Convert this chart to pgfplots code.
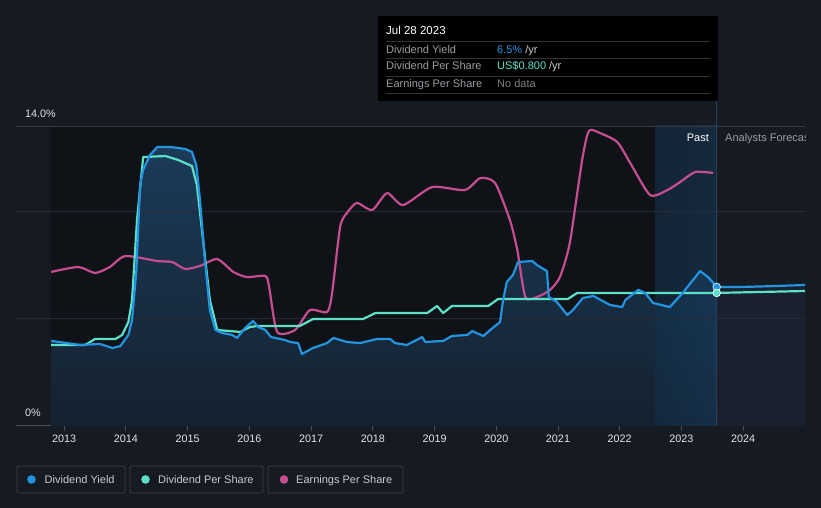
\documentclass[border=0pt]{standalone}
\usepackage{fontspec}
\setmainfont{Liberation Sans}
\usepackage{pgfplots}
\usepackage{pgfplotstable}
\pgfplotsset{compat=1.18}

\definecolor{bg}{HTML}{151A23}
\definecolor{pastdark}{HTML}{0F1318}
\definecolor{fillTop}{HTML}{1B3B58}
\definecolor{fillBot}{HTML}{15212F}
\definecolor{fcfill}{HTML}{18212D}
\definecolor{bandL}{HTML}{1F5F95}
\definecolor{bandR}{HTML}{2A7AC0}
\definecolor{gridc}{HTML}{262C35}
\definecolor{topgrid}{HTML}{353A42}
\definecolor{axisgray}{HTML}{474D56}
\definecolor{ticklab}{HTML}{E2E4E8}
\definecolor{dyblue}{HTML}{2394E0}
\definecolor{dpsteal}{HTML}{5DE0C8}
\definecolor{epspink}{HTML}{C64D90}
\definecolor{pastline}{HTML}{24405A}
\definecolor{ttgray}{HTML}{9A9DA3}
\definecolor{ttsep}{HTML}{343434}
\definecolor{legbox}{HTML}{3A3F48}
\definecolor{legtext}{HTML}{C8CACE}

% dividend yield (%)
\pgfplotstableread{
t v
2012.79 3.97
2013.26 3.78
2013.58 3.83
2013.78 3.64
2013.91 3.73
2014.04 4.25
2014.10 4.95
2014.17 7.28
2014.23 11.25
2014.28 11.95
2014.39 12.65
2014.51 13.02
2014.72 13.02
2014.96 12.93
2015.07 12.79
2015.14 12.18
2015.20 10.55
2015.28 7.75
2015.36 5.41
2015.45 4.48
2015.56 4.34
2015.72 4.25
2015.80 4.11
2015.93 4.57
2016.06 4.90
2016.14 4.62
2016.26 4.48
2016.35 4.15
2016.50 4.06
2016.58 4.01
2016.66 3.92
2016.79 3.87
2016.85 3.36
2017.03 3.64
2017.26 3.87
2017.36 4.11
2017.58 3.92
2017.79 3.87
2018.07 4.06
2018.28 4.06
2018.36 3.87
2018.55 3.78
2018.80 4.15
2018.85 3.92
2019.14 3.97
2019.28 4.20
2019.53 4.25
2019.61 4.43
2019.79 4.20
2019.90 4.48
2020.06 4.85
2020.11 5.88
2020.17 6.72
2020.27 7.05
2020.35 7.65
2020.58 7.70
2020.66 7.51
2020.82 7.23
2020.85 6.02
2020.98 5.79
2021.15 5.18
2021.24 5.41
2021.40 5.97
2021.57 6.07
2021.84 5.65
2022.04 5.55
2022.09 5.88
2022.30 6.35
2022.41 6.21
2022.54 5.74
2022.81 5.55
2023.02 6.21
2023.30 7.23
2023.43 6.95
2023.57 6.49
}\yield

\pgfplotstableread{
t v
2023.57 6.49
2024.00 6.49
2024.50 6.53
2025.00 6.58
}\yieldfc

% dividend per share (scaled to chart)
\pgfplotstableread{
t v
2012.79 3.78
2013.34 3.78
2013.50 4.06
2013.83 4.06
2013.94 4.25
2014.04 4.85
2014.10 5.88
2014.18 9.61
2014.28 12.55
2014.64 12.60
2014.85 12.41
2015.07 12.13
2015.15 11.25
2015.25 8.68
2015.36 5.88
2015.48 4.48
2015.85 4.39
2016.01 4.62
2016.14 4.67
2016.82 4.67
2017.03 4.99
2017.84 4.99
2018.04 5.27
2018.88 5.27
2019.04 5.60
2019.14 5.27
2019.28 5.60
2019.87 5.60
2020.03 5.93
2021.16 5.93
2021.31 6.21
2023.57 6.21
2025.00 6.30
}\dps

% earnings per share (scaled to chart)
\pgfplotstableread{
t v
2012.79 7.19
2013.23 7.42
2013.50 7.14
2013.74 7.42
2013.99 7.93
2014.51 7.70
2014.75 7.65
2014.96 7.33
2015.20 7.47
2015.48 7.79
2015.74 7.19
2015.96 6.95
2016.26 7.00
2016.32 6.49
2016.45 4.39
2016.74 4.48
2016.98 5.41
2017.26 5.32
2017.34 6.21
2017.47 9.29
2017.58 9.94
2017.74 10.41
2017.99 10.08
2018.23 10.87
2018.49 10.31
2018.96 11.15
2019.49 11.01
2019.74 11.57
2019.98 11.34
2020.22 9.61
2020.34 8.21
2020.47 6.02
2020.66 6.02
2020.87 6.35
2021.03 6.95
2021.19 8.54
2021.39 12.41
2021.50 13.77
2021.68 13.67
2021.96 13.25
2022.17 12.27
2022.49 10.78
2022.77 11.01
2022.98 11.39
2023.22 11.85
2023.51 11.81
}\eps

\begin{document}
\begin{tikzpicture}
\fill[bg] (0,0) rectangle (821bp,508bp);

\begin{axis}[
    at={(16bp,82bp)}, anchor=south west,
    scale only axis, width=789bp, height=300bp,
    xmin=2012.22, xmax=2025, ymin=0, ymax=14,
    clip=false,
    axis y line=none,
    axis x line*=bottom,
    x axis line style={draw=axisgray, line width=1bp},
    ytick=\empty,
    xtick={2013,2014,...,2024},
    tick align=outside,
    major tick length=5bp,
    x tick style={draw=axisgray, line width=0.8bp},
    x tick label style={font=\fontsize{10.8bp}{12bp}\selectfont, text=ticklab,
        /pgf/number format/assume math mode=true, /pgf/number format/1000 sep={}},
    scaled x ticks=false,
]
% past region background
\fill[pastdark] (axis cs:2012.79,0) rectangle (axis cs:2022.57,14);

% area under dividend yield
\addplot[draw=none, top color=fillTop, bottom color=fillBot] table[x=t,y=v] {\yield} \closedcycle;
\addplot[draw=none, fill=fcfill] table[x=t,y=v] {\yieldfc} \closedcycle;

% last-year band
\fill[left color=bandL, right color=bandR, fill opacity=0.22] (axis cs:2022.57,0) rectangle (axis cs:2023.57,14);

% grid
\draw[gridc, line width=0.8bp] (axis cs:2012.22,5) -- (axis cs:2025,5);
\draw[gridc, line width=0.8bp] (axis cs:2012.22,10) -- (axis cs:2025,10);
\draw[topgrid, line width=0.8bp] (axis cs:2012.22,14) -- (axis cs:2025,14);
\draw[pastline, line width=1bp] (axis cs:2023.57,0) -- (axis cs:2023.57,15.17);

% series
\addplot[epspink, line width=2.2bp, smooth, tension=0.4, line join=round] table[x=t,y=v] {\eps};
\addplot[dpsteal, line width=2.2bp, line join=round] table[x=t,y=v] {\dps};
\addplot[dyblue, line width=2.2bp, line join=round] table[x=t,y=v] {\yield};
\addplot[dyblue, line width=2.2bp, line join=round] table[x=t,y=v] {\yieldfc};

\addplot[only marks, mark=*, mark size=3.8bp, mark options={fill=dyblue, draw=white!75!dyblue, line width=0.8bp}] coordinates {(2023.57,6.49)};
\addplot[only marks, mark=*, mark size=3.8bp, mark options={fill=dpsteal, draw=white!75!dpsteal, line width=0.8bp}] coordinates {(2023.57,6.21)};
\end{axis}

% y labels
\node[anchor=base west, text=ticklab, font=\fontsize{10.8bp}{12bp}\selectfont, inner sep=0] at (25bp,390bp) {14.0\%};
\node[anchor=base west, text=ticklab, font=\fontsize{10.8bp}{12bp}\selectfont, inner sep=0] at (25bp,91bp) {0\%};

% past / forecast labels
\node[anchor=base east, text=white, font=\fontsize{11bp}{13bp}\selectfont, inner sep=0] at (709bp,366bp) {Past};
\begin{scope}
\clip (718bp,350bp) rectangle (805bp,380bp);
\node[anchor=base west, text=ttgray, font=\fontsize{11bp}{13bp}\selectfont, inner sep=0] at (725bp,366bp) {Analysts Forecast};
\end{scope}

% tooltip
\fill[black] (378bp,492bp) rectangle (718bp,407bp);
\node[anchor=base west, text=white, font=\fontsize{11.5bp}{13bp}\selectfont, inner sep=0] at (386bp,473bp) {Jul 28 2023};
\foreach \yy in {466.7,449.7,432,414.7} \draw[ttsep, line width=0.8bp] (386bp,\yy bp) -- (710bp,\yy bp);
\begin{scope}[every node/.style={anchor=base west, inner sep=0, font=\fontsize{11bp}{13bp}\selectfont}]
\node[text=ttgray] at (386bp,454.5bp) {Dividend Yield};
\node[text=ttgray] at (386bp,438bp) {Dividend Per Share};
\node[text=ttgray] at (386bp,420bp) {Earnings Per Share};
\node at (497bp,454.5bp) {\textcolor{dyblue}{6.5\%} \textcolor{legtext}{/yr}};
\node at (497bp,438bp) {\textcolor{dpsteal}{US\$0.800} \textcolor{legtext}{/yr}};
\node[text=ttgray!80!black] at (497bp,420bp) {No data};
\end{scope}

% legend
\begin{scope}[every node/.style={anchor=base west, inner sep=0, text=legtext, font=\fontsize{11bp}{13bp}\selectfont}]
\draw[legbox, line width=0.8bp, rounded corners=2bp] (17bp,42bp) rectangle (125bp,15bp);
\fill[dyblue] (31.5bp,28.5bp) circle (4.3bp);
\node at (44.5bp,24.5bp) {Dividend Yield};
\draw[legbox, line width=0.8bp, rounded corners=2bp] (130bp,42bp) rectangle (263bp,15bp);
\fill[dpsteal] (145.5bp,28.5bp) circle (4.3bp);
\node at (158bp,24.5bp) {Dividend Per Share};
\draw[legbox, line width=0.8bp, rounded corners=2bp] (268bp,42bp) rectangle (403bp,15bp);
\fill[epspink] (284bp,28.5bp) circle (4.3bp);
\node at (296bp,24.5bp) {Earnings Per Share};
\end{scope}
\end{tikzpicture}
\end{document}
